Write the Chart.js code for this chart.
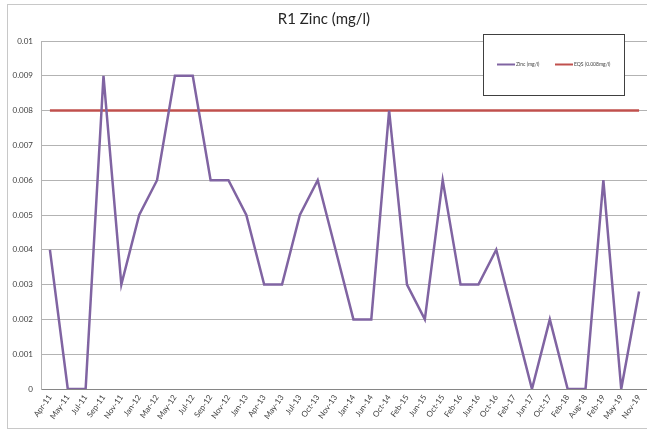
<!DOCTYPE html>
<html lang="en">
<head>
<meta charset="UTF-8">
<title>R1 Zinc</title>
<script src="https://cdn.jsdelivr.net/npm/chart.js"></script>
<style>
  html, body { margin: 0; padding: 0; background: #fff; overflow: hidden; }
  #wrap { width: 647px; height: 431px; overflow: hidden; }
</style>
</head>
<body>
<div id="wrap"><canvas id="chart" width="660" height="431"></canvas></div>
<script>
// sample dates
const labels = ['Apr-11','May-11','Jul-11','Sep-11','Nov-11','Jan-12','Mar-12','May-12','Jul-12','Sep-12',
  'Nov-12','Jan-13','Apr-13','May-13','Jul-13','Oct-13','Nov-13','Jan-14','Jun-14','Oct-14',
  'Feb-15','Jun-15','Oct-15','Feb-16','Jun-16','Oct-16','Feb-17','Jun-17','Oct-17','Feb-18',
  'Aug-18','Feb-19','May-19','Nov-19'];

// zinc readings (mg/l)
const zinc = [0.004,0,0,0.009,0.003,0.005,0.006,0.009,0.009,0.006,
  0.006,0.005,0.003,0.003,0.005,0.006,0.004,0.002,0.002,0.008,
  0.003,0.002,0.006,0.003,0.003,0.004,0.002,0,0.002,0,
  0,0.006,0,0.0028];

// EQS limit
const eqs = labels.map(() => 0.008);

const yTicks = [0,0.001,0.002,0.003,0.004,0.005,0.006,0.007,0.008,0.009,0.01];

const FONT = 'Lato, "Liberation Sans", sans-serif';

// outer border + legend box drawn on the canvas
const frame = {
  id: 'frame',
  beforeDraw(c) {
    const ctx = c.ctx;
    ctx.save();
    ctx.strokeStyle = '#c8c8c8';
    ctx.lineWidth = 1;
    ctx.strokeRect(7.5, 4.5, 700, 424);
    ctx.restore();
  },
  afterDraw(c) {
    const ctx = c.ctx;
    ctx.save();
    ctx.fillStyle = '#fff';
    ctx.fillRect(483, 34, 141, 61);
    ctx.strokeStyle = '#404040';
    ctx.lineWidth = 1;
    ctx.strokeRect(483.5, 34.5, 141, 61);
    const items = [[497, 516], [555, 574]];
    ctx.font = '5px ' + FONT;
    ctx.textBaseline = 'middle';
    c.data.datasets.forEach((ds, i) => {
      const [x0, tx] = items[i];
      ctx.strokeStyle = ds.borderColor;
      ctx.lineWidth = 2;
      ctx.beginPath();
      ctx.moveTo(x0, 64.5);
      ctx.lineTo(x0 + 18, 64.5);
      ctx.stroke();
      ctx.fillStyle = '#404040';
      ctx.fillText(ds.label, tx, 64.5);
    });
    ctx.restore();
  }
};

new Chart(document.getElementById('chart'), {
  type: 'line',
  data: {
    labels,
    datasets: [
      { label: 'Zinc (mg/l)', data: zinc, borderColor: '#8064a2', borderWidth: 2.5,
        pointRadius: 0, tension: 0, fill: false },
      { label: 'EQS (0.008mg/l)', data: eqs, borderColor: '#c0504d', borderWidth: 2.5,
        pointRadius: 0, tension: 0, fill: false }
    ]
  },
  options: {
    responsive: false,
    animation: false,
    layout: { padding: { top: 0, right: 12, bottom: 0, left: 0 } },
    plugins: {
      legend: { display: false },
      tooltip: { enabled: false },
      title: {
        display: true,
        text: 'R1 Zinc (mg/l)',
        color: '#262626',
        font: { family: FONT, size: 15, weight: 'normal' },
        padding: { top: 10, bottom: 13 }
      }
    },
    scales: {
      x: {
        offset: true,
        grid: { display: false, drawTicks: false },
        border: { color: '#868686', width: 1 },
        ticks: {
          autoSkip: false, maxRotation: 55, minRotation: 55, padding: 4,
          color: '#404040', font: { family: FONT, size: 8 }
        },
        afterFit(s) { s.height = 42; }
      },
      y: {
        min: 0, max: 0.01,
        afterBuildTicks(s) { s.ticks = yTicks.map(v => ({ value: v })); },
        grid: { color: '#b3b3b3', drawTicks: false },
        border: { color: '#b3b3b3' },
        ticks: {
          padding: 8, color: '#404040', font: { family: FONT, size: 8 },
          callback: v => String(Number(v.toFixed(3)))
        },
        afterFit(s) { s.width = 41; }
      }
    }
  },
  plugins: [frame]
});
</script>
</body>
</html>
